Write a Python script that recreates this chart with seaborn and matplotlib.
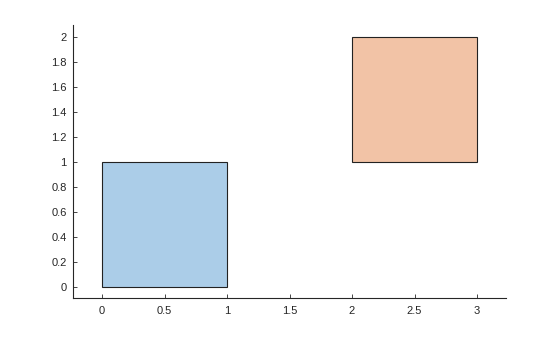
import matplotlib
matplotlib.use("Agg")
import matplotlib.pyplot as plt
from matplotlib.patches import Rectangle
import seaborn as sns

# Data
rect_x = [0, 2]
rect_y = [0, 1]
rect_w = [1, 1]
rect_h = [1, 1]
rect_colors = ["#abcde8", "#f2c3a6"]
xticks = [0, 0.5, 1, 1.5, 2, 2.5, 3]
xticklabels = ["0", "0.5", "1", "1.5", "2", "2.5", "3"]
yticks = [0, 0.2, 0.4, 0.6, 0.8, 1, 1.2, 1.4, 1.6, 1.8, 2]
yticklabels = ["0", "0.2", "0.4", "0.6", "0.8", "1", "1.2", "1.4", "1.6", "1.8", "2"]

sns.set_style("ticks")
plt.rcParams["font.family"] = ["Liberation Sans", "DejaVu Sans"]

fig = plt.figure(figsize=(5.6, 3.37), dpi=100)
ax = fig.add_axes([0.1304, 0.1157, 0.7732, 0.8101])

for x, y, w, h, c in zip(rect_x, rect_y, rect_w, rect_h, rect_colors):
    ax.add_patch(Rectangle((x, y), w, h, facecolor=c, edgecolor="#222222", linewidth=0.8))

ax.set_xlim(-0.232, 3.232)
ax.set_ylim(-0.09, 2.098)
ax.set_xticks(xticks)
ax.set_xticklabels(xticklabels)
ax.set_yticks(yticks)
ax.set_yticklabels(yticklabels)

sns.despine(ax=ax)
for s in ["left", "bottom"]:
    ax.spines[s].set_color("#262626")
    ax.spines[s].set_linewidth(0.8)
ax.tick_params(direction="in", length=3, width=0.6, colors="#262626",
               labelsize=8)
ax.tick_params(axis="x", pad=6)
ax.tick_params(axis="y", pad=4.5)

fig.savefig("out.png", dpi=100)
